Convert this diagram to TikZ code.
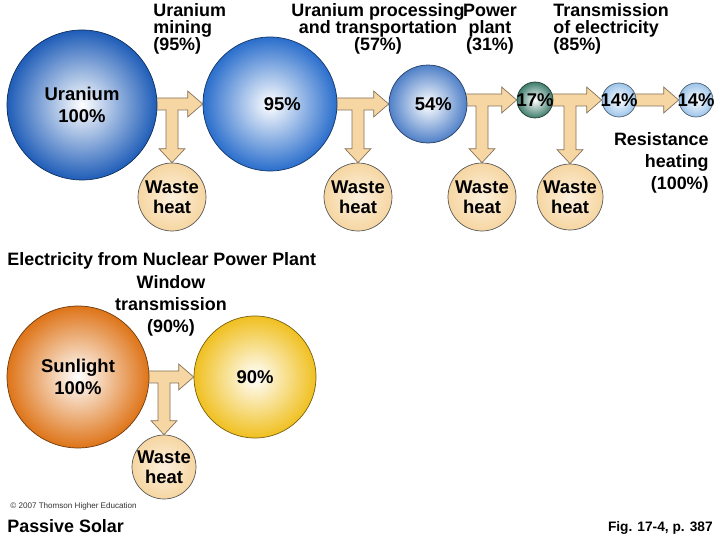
\documentclass[tikz,border=0pt]{standalone}
\usepackage{fontspec}
\setmainfont{Liberation Sans}
\usetikzlibrary{calc,positioning,backgrounds}

\definecolor{uranblue}{HTML}{1F5DB8}
\definecolor{procblue}{HTML}{2A6ECC}
\definecolor{plantblue}{HTML}{4F80C8}
\definecolor{elecgreen}{HTML}{3F7D6C}
\definecolor{lineblue}{HTML}{9DC4EA}
\definecolor{sunorange}{HTML}{DE7418}
\definecolor{winyellow}{HTML}{F0C020}
\definecolor{tanfill}{HTML}{F6D6A2}
\definecolor{tanpale}{HTML}{FCF0DC}
\definecolor{tanline}{HTML}{85725A}

% T-shaped flow arrow: from #1 to #2, losses down to #3
\newcommand{\teearrow}[3]{%
  \filldraw[flow] ($(#1.east |- #2.west)+(-8,-6)$) -- ($(#2.west)+(-15,-6)$)
    -- ($(#2.west)+(-15,-13)$) -- (#2.west) -- ($(#2.west)+(-15,13)$)
    -- ($(#2.west)+(-15,6)$) -- ($(#3.north |- #2.west)+(6,6)$)
    -- ($(#3.north)+(6,-14)$) -- ($(#3.north)+(13,-14)$) -- (#3.north)
    -- ($(#3.north)+(-13,-14)$) -- ($(#3.north)+(-6,-14)$)
    -- ($(#3.north |- #2.west)+(-6,6)$) -- ($(#1.east |- #2.west)+(-8,6)$) -- cycle;}

\begin{document}
\begin{tikzpicture}[x=0.02cm, y=-0.02cm,
    orb/.style={circle, draw=#1!50!black, shading=radial, inner color=white,
      outer color=#1, inner sep=0pt, align=center,
      font=\fontsize{10.5}{12.5}\selectfont\bfseries},
    waste/.style={circle, draw=black!65, shading=radial, inner color=tanpale,
      outer color=tanfill, minimum size=1.36cm, inner sep=0pt, align=center,
      font=\fontsize{10.5}{11.4}\selectfont\bfseries},
    pct/.style={inner sep=0pt, font=\fontsize{10.5}{12.5}\selectfont\bfseries},
    lbl/.style={inner sep=0pt, font=\fontsize{10.2}{9.7}\selectfont\bfseries},
    biglbl/.style={inner sep=0pt, font=\fontsize{10.2}{12.5}\selectfont\bfseries},
    flow/.style={fill=tanfill, draw=tanline, line join=miter}
]
\useasboundingbox (0,0) rectangle (720,540);

% nuclear chain
\node[orb=uranblue, minimum size=3cm] (ura) at (82,105) {Uranium\\100\%};
\node[orb=procblue, minimum size=2.68cm] (proc) at (270,104) {\hspace{14pt}95\%};
\node[orb=plantblue, minimum size=1.56cm] (plant) at (428,104) {\hspace{6pt}54\%};
\node[orb=elecgreen, minimum size=0.72cm, label={[pct]center:17\%}] (elec) at (535,100) {};
\node[orb=lineblue, minimum size=0.68cm, label={[pct]center:14\%}] (line) at (619,100) {};
\node[orb=lineblue, minimum size=0.68cm, label={[pct]center:14\%}] (home) at (696,100) {};

\node[waste] (wa) at (172,197) {Waste\\heat};
\node[waste] (wb) at (358,197) {Waste\\heat};
\node[waste] (wc) at (482,197) {Waste\\heat};
\node[waste, minimum size=1.32cm] (wd) at (570,197) {Waste\\heat};

\node[lbl, anchor=west, align=left] (mine) at (153,29) {Uranium\\mining\\(95\%)};
\node[lbl, align=center] (procl) at (378,29) {Uranium processing\\and transportation\\(57\%)};
\node[lbl, align=center] (plantl) at (490,29) {Power\\plant\\(31\%)};
\node[lbl, anchor=west, align=left] (transl) at (553,29) {Transmission\\of electricity\\(85\%)};
\node[biglbl, anchor=east, align=right] (resist) at (709,163) {Resistance\\heating\\(100\%)};

% passive solar
\node[biglbl, anchor=west] (nuctitle) at (7,261) {Electricity from Nuclear Power Plant};
\node[biglbl, align=center] (winl) at (171,306) {Window\\transmission\\(90\%)};
\node[orb=sunorange, minimum size=2.84cm] (sun) at (78,377) {Sunlight\\100\%};
\node[orb=winyellow, minimum size=2.44cm] (win) at (255,377) {90\%};
\node[waste, minimum size=1.28cm] (we) at (164,467) {Waste\\heat};

\node[inner sep=0pt, anchor=west, font=\fontsize{4.6}{5}\selectfont, text=black!80] (copy) at (10,506) {\textcopyright{} 2007 Thomson Higher Education};
\node[biglbl, anchor=west] (solar) at (7,526) {Passive Solar};
\node[lbl, anchor=east, font=\fontsize{7.8}{10}\selectfont\bfseries] (fig) at (713,528) {Fig. 17-4, p. 387};

\begin{scope}[on background layer]
\teearrow{ura}{proc}{wa}
\teearrow{proc}{plant}{wb}
\teearrow{plant}{elec}{wc}
\teearrow{elec}{line}{wd}
\teearrow{sun}{win}{we}
\filldraw[flow] ($(line.east)+(-3,-6)$) -- ($(home.west)+(-15,-6)$)
  -- ($(home.west)+(-15,-13)$) -- (home.west) -- ($(home.west)+(-15,13)$)
  -- ($(home.west)+(-15,6)$) -- ($(line.east)+(-3,6)$) -- cycle;
\end{scope}
\end{tikzpicture}
\end{document}
